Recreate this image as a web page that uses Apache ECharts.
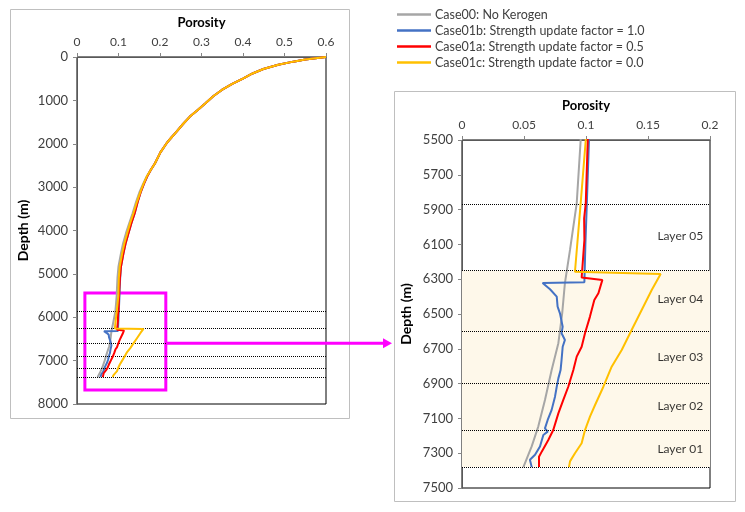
<!DOCTYPE html>
<html><head><meta charset="utf-8">
<script src="https://cdn.jsdelivr.net/npm/echarts@6/dist/echarts.min.js"></script>
<style>html,body{margin:0;padding:0;background:#fff}#c{width:745px;height:512px}</style>
</head><body><div id="c"></div>
<script>
// ---- data ----
const seriesNames = ['Case00: No Kerogen','Case01b: Strength update factor = 1.0','Case01a: Strength update factor = 0.5','Case01c: Strength update factor = 0.0'];
const seriesColors = ['#a6a6a6','#4472c4','#ff0000','#ffc000'];

const upperDepth = [0,30,60,107,180,276,380,491,620,760,900,1067,1220,1374,1550,1720,1850,1988,2200,2449,2600,2756,2930,3102,3350,3601,3830,4061,4300,4522,4829,5100,5366];

const case00Por_upper  = [0.6,0.575,0.55,0.521,0.485,0.449,0.423,0.401,0.374,0.349,0.329,0.3095,0.291,0.272,0.255,0.240,0.228,0.216,0.201,0.188,0.178,0.168,0.159,0.151,0.142,0.134,0.126,0.118,0.111,0.106,0.100,0.0975,0.0962];
const case01bPor_upper = [0.6,0.575,0.55,0.521,0.485,0.449,0.423,0.401,0.374,0.349,0.329,0.3095,0.291,0.272,0.255,0.240,0.228,0.216,0.201,0.188,0.178,0.169,0.161,0.154,0.146,0.139,0.131,0.124,0.117,0.112,0.106,0.104,0.1027];
const case01aPor_upper = [0.6,0.575,0.55,0.521,0.485,0.449,0.423,0.401,0.374,0.349,0.329,0.3095,0.291,0.272,0.255,0.240,0.228,0.216,0.201,0.188,0.178,0.169,0.161,0.154,0.146,0.139,0.131,0.124,0.117,0.112,0.106,0.1035,0.102];
const case01cPor_upper = [0.6,0.575,0.55,0.521,0.485,0.449,0.423,0.401,0.374,0.349,0.329,0.3095,0.291,0.272,0.255,0.240,0.228,0.216,0.201,0.188,0.178,0.168,0.160,0.153,0.144,0.136,0.128,0.121,0.114,0.109,0.103,0.1008,0.100];

const case00Depth_lower = [5500,5864,6132,6322,6496,6668,6822,6994,7147,7261,7380];
const case00Por_lower   = [0.0957,0.0925,0.0871,0.083,0.0808,0.0777,0.0723,0.0669,0.0615,0.0562,0.0495];

const case01bDepth_lower = [5500,5900,6100,6318,6322,6358,6400,6458,6496,6573,6611,6649,6688,6764,6822,6870,6918,6975,7051,7109,7157,7176,7195,7261,7309,7338,7380];
const case01bPor_lower   = [0.1024,0.1005,0.0995,0.0987,0.065,0.071,0.0764,0.0771,0.079,0.0812,0.0803,0.083,0.0812,0.0803,0.0795,0.0777,0.0764,0.075,0.0723,0.0691,0.0669,0.0691,0.0656,0.0629,0.0589,0.0548,0.0562];

const case01aDepth_lower = [5500,5864,5950,6075,6290,6304,6381,6420,6515,6611,6688,6745,6822,6918,6994,7071,7167,7224,7291,7320,7380];
const case01aPor_lower   = [0.1014,0.0998,0.0985,0.0987,0.0965,0.1132,0.110,0.1067,0.1032,0.0992,0.0965,0.0925,0.0898,0.0857,0.0817,0.0777,0.0736,0.0696,0.0643,0.0621,0.0621];

const case01cDepth_lower = [5500,5864,6257,6270,6362,6477,6592,6707,6803,6918,7023,7090,7167,7243,7300,7347,7380];
const case01cPor_lower   = [0.0998,0.0957,0.0911,0.1602,0.153,0.1449,0.1368,0.1288,0.1207,0.114,0.1073,0.1032,0.0992,0.0965,0.0911,0.0871,0.0863];

const layerBoundaries = [5870,6250,6600,6900,7170,7380];
const layerNames  = ['Layer 05','Layer 04','Layer 03','Layer 02','Layer 01'];
const layerLabelDepths = [6050,6415,6750,7030,7275];
const layerLabelPor = 0.176;
const shadedRange = [6250,7380];
const zoomBox = {x:[0.019,0.214], y:[5440,7680]};

const leftXTicks = {min:0,max:0.6,interval:0.1};
const leftYTicks = {min:0,max:8000,interval:1000};
const rightXTicks = {min:0,max:0.2,interval:0.05};
const rightYTicks = {min:5500,max:7500,interval:200};

// ---- chart ----
const FONT = 'Lato';
const chart = echarts.init(document.getElementById('c'));
const allDepth = [
  upperDepth.concat(case00Depth_lower), upperDepth.concat(case01bDepth_lower),
  upperDepth.concat(case01aDepth_lower), upperDepth.concat(case01cDepth_lower)];
const allPor = [
  case00Por_upper.concat(case00Por_lower), case01bPor_upper.concat(case01bPor_lower),
  case01aPor_upper.concat(case01aPor_lower), case01cPor_upper.concat(case01cPor_lower)];
const pairs = i => allDepth[i].map((d,k)=>[allPor[i][k], d]);

function xAxisCfg(gi, t){
  return {gridIndex:gi, type:'value', position:'top', min:t.min, max:t.max, interval:t.interval,
    name:'Porosity', nameLocation:'middle', nameGap:28,
    nameTextStyle:{fontFamily:FONT,fontWeight:'bold',fontSize:13,color:'#000'},
    axisLine:{show:true,lineStyle:{color:'#595959'}}, axisTick:{show:true,length:4,lineStyle:{color:'#868686'}},
    axisLabel:{fontFamily:FONT,fontSize:12,color:'#404040',margin:9,formatter:v=>String(+v.toFixed(2))},
    splitLine:{show:false}};
}
function yAxisCfg(gi, t, gap){
  return {gridIndex:gi, type:'value', inverse:true, min:t.min, max:t.max, interval:t.interval,
    name:'Depth (m)', nameLocation:'middle', nameGap:gap, nameRotate:90,
    nameTextStyle:{fontFamily:FONT,fontWeight:'bold',fontSize:14,color:'#000'},
    axisLine:{show:true,lineStyle:{color:'#595959'}}, axisTick:{show:true,length:4,lineStyle:{color:'#868686'}},
    axisLabel:{fontFamily:FONT,fontSize:13,color:'#404040',margin:9,formatter:v=>String(v)},
    splitLine:{show:false}};
}
const dotted = {symbol:'none', silent:true, label:{show:false},
  lineStyle:{type:'dotted',color:'#000',width:1}, data:layerBoundaries.map(v=>({yAxis:v}))};

const series = [];
for (let g=0; g<2; g++){
  for (let i=0;i<4;i++){
    const s = {name:seriesNames[i], type:'line', xAxisIndex:g, yAxisIndex:g, data:pairs(i),
      symbol:'none', clip:true, color:seriesColors[i], lineStyle:{width:2,color:seriesColors[i]}, z: 3+i};
    if (i===0){
      s.markLine = dotted;
      if (g===1){
        s.markArea = {silent:true, itemStyle:{color:'#fef8ea'}, data:[[{yAxis:shadedRange[0]},{yAxis:shadedRange[1]}]]};
      } else {
        s.markArea = {silent:true, itemStyle:{color:'rgba(0,0,0,0)',borderColor:'#ff00ff',borderWidth:3},
          data:[[{coord:[zoomBox.x[0],zoomBox.y[0]]},{coord:[zoomBox.x[1],zoomBox.y[1]]}]]};
      }
    }
    series.push(s);
  }
}
series.push({type:'scatter', xAxisIndex:1, yAxisIndex:1, symbolSize:0, silent:true,
  data:layerNames.map((n,k)=>({value:[layerLabelPor, layerLabelDepths[k]], name:n})),
  label:{show:true, position:'inside', formatter:p=>p.name, fontFamily:FONT, fontSize:12, color:'#000'}, z:10});

chart.setOption({
  animation:false,
  backgroundColor:'#fff',
  legend:{orient:'vertical', left:392, top:3, icon:'rect', itemWidth:34, itemHeight:2.5, itemGap:3,
    data:seriesNames, textStyle:{fontFamily:FONT,fontSize:12.5,color:'#404040',padding:[0,0,0,-1]}},
  grid:[
    {left:77, top:57, width:249, height:347, show:true, borderColor:'#000', borderWidth:1, backgroundColor:'transparent'},
    {left:462, top:140, width:248, height:348, show:true, borderColor:'#000', borderWidth:1, backgroundColor:'transparent'}
  ],
  xAxis:[xAxisCfg(0,leftXTicks), xAxisCfg(1,rightXTicks)],
  yAxis:[yAxisCfg(0,leftYTicks,47), yAxisCfg(1,rightYTicks,49)],
  series:series
});

// decorations: panel frames and arrow
const p1 = chart.convertToPixel({gridIndex:0}, [zoomBox.x[1], 6600]);
const tipX = 392;
chart.setOption({graphic:[
  {type:'rect', shape:{x:10.5,y:9.5,width:339,height:409}, style:{fill:'none',stroke:'#bfbfbf',lineWidth:1}, z:-10},
  {type:'rect', shape:{x:394.5,y:91.5,width:341,height:410}, style:{fill:'none',stroke:'#bfbfbf',lineWidth:1}, z:-10},
  {type:'line', shape:{x1:p1[0]+1, y1:p1[1], x2:tipX-8, y2:p1[1]}, style:{stroke:'#ff00ff',lineWidth:3}, z:20},
  {type:'polygon', shape:{points:[[tipX,p1[1]],[tipX-9,p1[1]-5],[tipX-9,p1[1]+5]]}, style:{fill:'#ff00ff'}, z:20}
]});
</script></body></html>
